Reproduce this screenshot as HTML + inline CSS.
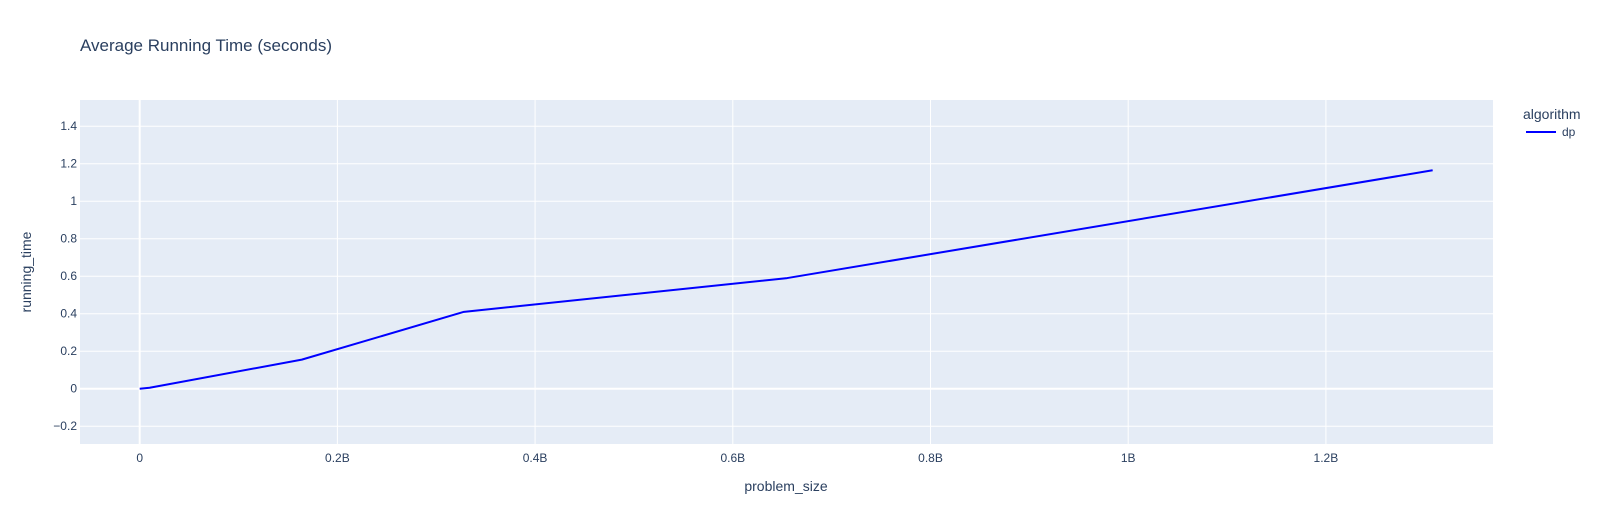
<!DOCTYPE html>
<html><head><meta charset="utf-8"><style>
body{margin:0;background:#fff;font-family:"Liberation Sans",sans-serif;}
svg text{font-family:"Liberation Sans",sans-serif;fill:#2a3f5f;}
</style></head><body>
<svg id="chart" width="1605" height="525" xmlns="http://www.w3.org/2000/svg">
<text x="80" y="51" font-size="17">Average Running Time (seconds)</text>
<rect x="80" y="100" width="1413" height="344" fill="#e5ecf6"/>
<g id="grid"></g>
<g id="series"></g>
<text x="786" y="491" font-size="14" text-anchor="middle">problem_size</text>
<text transform="translate(31,272) rotate(-90)" font-size="14" text-anchor="middle">running_time</text>
<text x="1523" y="119" font-size="14">algorithm</text>
<line x1="1526" y1="132" x2="1556" y2="132" stroke="#0000ff" stroke-width="2"/>
<text x="1562" y="136" font-size="12">dp</text>
</svg>
<script>
const xValues=[0,0.01,0.164,0.328,0.655,1.308];
const yValues=[0,0.005,0.155,0.41,0.59,1.165];
const xTicks=[0,0.2,0.4,0.6,0.8,1,1.2];
const xTickLabels=["0","0.2B","0.4B","0.6B","0.8B","1B","1.2B"];
const yTicks=[-0.2,0,0.2,0.4,0.6,0.8,1,1.2,1.4];
const yTickLabels=["−0.2","0","0.2","0.4","0.6","0.8","1","1.2","1.4"];
const X=v=>139.7+v*988.5;
const Y=v=>388.7-v*187.5;
const NS="http://www.w3.org/2000/svg";
const grid=document.getElementById('grid');
function mk(tag,attrs,parent){const e=document.createElementNS(NS,tag);for(const k in attrs)e.setAttribute(k,attrs[k]);parent.appendChild(e);return e;}
xTicks.forEach((t,i)=>{
 const l=mk('line',{x1:X(t),x2:X(t),y1:100,y2:444,stroke:'#fff','stroke-width':t===0?2:1},grid);
 
 
 const tx=mk('text',{x:X(t),y:462,'font-size':12,'text-anchor':'middle'},grid);
 tx.textContent=xTickLabels[i];
 
 
});
yTicks.forEach((t,i)=>{
 const l=mk('line',{x1:80,x2:1493,y1:Y(t),y2:Y(t),stroke:'#fff','stroke-width':Math.abs(t)<1e-9?2:1},grid);
 
 
 const tx=mk('text',{x:77,y:Y(t)+4,'font-size':12,'text-anchor':'end'},grid);
 tx.textContent=yTickLabels[i];
 
 
});
const pts=xValues.map((x,i)=>X(x)+','+Y(yValues[i])).join(' ');
const pl=mk('polyline',{points:pts,fill:'none',stroke:'#0000ff','stroke-width':2,'stroke-linejoin':'round'},document.getElementById('series'));


</script>
</body></html>
